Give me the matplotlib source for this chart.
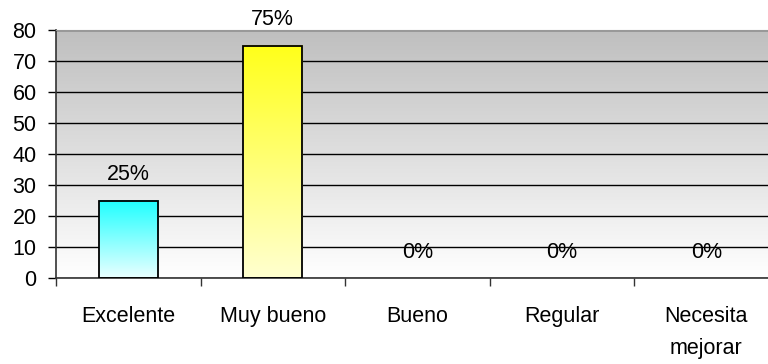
import numpy as np
import matplotlib
matplotlib.use("Agg")
import matplotlib.pyplot as plt
from matplotlib.colors import LinearSegmentedColormap

categories = ["Excelente", "Muy bueno", "Bueno", "Regular", "Necesita\nmejorar"]
values = [25, 75, 0, 0, 0]
labels = ["25%", "75%", "0%", "0%", "0%"]
bar_tops = ["#1effff", "#ffff1a", None, None, None]
bar_bottoms = ["#eaffff", "#ffffd0", None, None, None]

plt.rcParams["font.family"] = ["Liberation Sans", "DejaVu Sans"]
FS = 15.5

fig = plt.figure(figsize=(7.68, 3.64), dpi=100)
ax = fig.add_axes([56 / 768, 86 / 364, 1 - 56 / 768, 248 / 364])
ax.set_xlim(-0.5, 4.427)
ax.set_ylim(0, 80)

# gray vertical gradient for the plot area
bg = LinearSegmentedColormap.from_list("bg", ["#ffffff", "#bfbfbf"])
grad = np.linspace(0, 1, 256).reshape(-1, 1)
ax.imshow(grad, cmap=bg, origin="lower", aspect="auto",
          extent=[-0.5, 4.427, 0, 80], zorder=0)

ax.set_yticks(range(0, 81, 10))
ax.grid(axis="y", color="black", lw=1, zorder=1)
ax.set_axisbelow(True)

width = 0.41
x = np.arange(len(categories))
for i, v in enumerate(values):
    if v > 0:
        cm = LinearSegmentedColormap.from_list(f"b{i}", [bar_bottoms[i], bar_tops[i]])
        ax.imshow(grad, cmap=cm, origin="lower", aspect="auto",
                  extent=[i - width / 2, i + width / 2, 0, v], zorder=2)
        ax.bar(i, v, width=width, facecolor="none", edgecolor="black", lw=1.3, zorder=3)
    ax.annotate(labels[i], (i, v), xytext=(0, 11), textcoords="offset points",
                ha="center", va="bottom", fontsize=FS, zorder=4)

ax.set_xlim(-0.5, 4.427)
ax.set_ylim(0, 80)
ax.set_xticks(x)
ax.set_xticklabels(categories, fontsize=FS, linespacing=1.7, va="top")
ax.set_xticks(np.arange(-0.5, 4.5, 1), minor=True)
ax.tick_params(axis="x", which="major", length=0, pad=20)
ax.tick_params(axis="x", which="minor", length=6, direction="out", width=1, color="#333333")
ax.tick_params(axis="y", length=6, direction="out", width=1, labelsize=FS, pad=8)

for s in ("left", "bottom"):
    ax.spines[s].set_color("#333333")
    ax.spines[s].set_linewidth(1.2)
ax.spines["top"].set_color("#999999")
ax.spines["right"].set_visible(False)

fig.savefig("out.png", dpi=100)
